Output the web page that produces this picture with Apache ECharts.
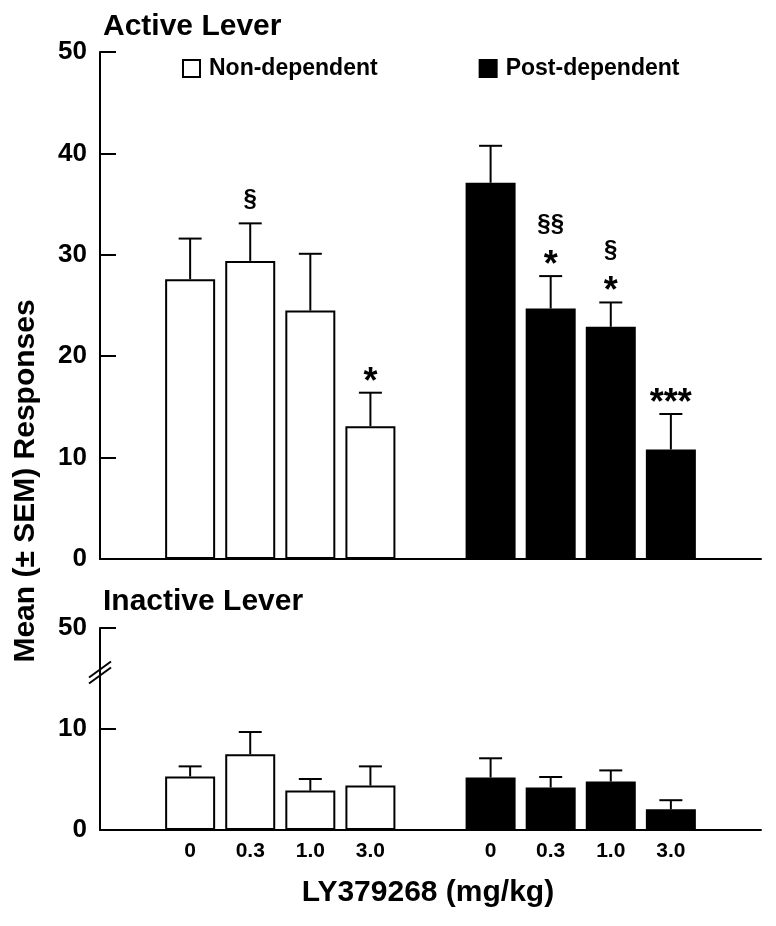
<!DOCTYPE html>
<html><head><meta charset="utf-8">
<script src="https://cdn.jsdelivr.net/npm/echarts@6/dist/echarts.min.js"></script>
<style>html,body{margin:0;padding:0;background:#fff}#c{width:776px;height:926px}</style>
</head><body><div id="c"></div>
<script>
// ---- data ----
const slotLabels = ['', '0', '0.3', '1.0', '3.0', '', '0', '0.3', '1.0', '3.0', ''];
const ndSlots = [1, 2, 3, 4];
const pdSlots = [6, 7, 8, 9];
const ndActive = [27.6, 29.4, 24.5, 13.1];
const ndActiveSem = [4.0, 3.7, 5.6, 3.3];
const pdActive = [37.1, 24.7, 22.9, 10.8];
const pdActiveSem = [3.65, 3.2, 2.4, 3.5];
const ndInactive = [5.3, 7.5, 3.9, 4.4];
const ndInactiveSem = [1.0, 2.2, 1.15, 1.9];
const pdInactive = [5.2, 4.2, 4.8, 2.05];
const pdInactiveSem = [1.9, 1.05, 1.1, 0.9];
const ndStars = ['', '', '', '*'];
const ndSect = ['', '§', '', ''];
const pdStars = ['', '*', '*', '***'];
const pdSect = ['', '§§', '§', ''];
const activeTicks = [0, 10, 20, 30, 40, 50];
const inactiveTickValues = [0, 10, 20];
const inactiveTickLabels = ['0', '10', '50'];
const breakAt = [15.6];
const seriesNames = ['Non-dependent', 'Post-dependent'];

const FONT = '"Liberation Sans", Arial, Helvetica, sans-serif';

function fullArray(slots, vals) {
  const a = slotLabels.map(() => '-');
  slots.forEach((s, i) => { a[s] = vals[i]; });
  return a;
}
function errData(slots, vals, sems) {
  return slots.map((s, i) => [s, vals[i], sems[i], i]);
}
function errRender(stars, sects) {
  return function (params, api) {
    const x = api.value(0), m = api.value(1), s = api.value(2), i = api.value(3);
    const p0 = api.coord([x, m]);
    const p1 = api.coord([x, m + s]);
    const ch = [
      { type: 'line', shape: { x1: p0[0], y1: p0[1], x2: p1[0], y2: p1[1] }, style: { stroke: '#000', lineWidth: 2 } },
      { type: 'line', shape: { x1: p1[0] - 11.5, y1: p1[1], x2: p1[0] + 11.5, y2: p1[1] }, style: { stroke: '#000', lineWidth: 2 } }
    ];
    let off = 0;
    if (stars && stars[i]) {
      ch.push({ type: 'text', x: p1[0], y: p1[1] - 10, style: { text: stars[i], font: 'bold 36px ' + FONT, fill: '#000', align: 'center', verticalAlign: 'middle' } });
      off = 28;
    }
    if (sects && sects[i]) {
      ch.push({ type: 'text', x: p1[0], y: p1[1] - 24 - off, style: { text: sects[i], font: 'bold 24px ' + FONT, fill: '#000', align: 'center', verticalAlign: 'middle' } });
    }
    return { type: 'group', children: ch };
  };
}

const chart = echarts.init(document.getElementById('c'), null, { renderer: 'canvas' });
const axisLine = { show: true, lineStyle: { color: '#000', width: 2 } };
const option = {
  backgroundColor: '#fff',
  animation: false,
  textStyle: { fontFamily: FONT },
  legend: {
    data: seriesNames,
    left: 182, top: 57, padding: 0,
    icon: 'rect',
    itemWidth: 17, itemHeight: 17, itemGap: 101,
    textStyle: { fontFamily: FONT, fontWeight: 'bold', fontSize: 23, color: '#000', padding: [0, 0, 0, 4] },
    selectedMode: false
  },
  grid: [
    { left: 100, right: 15, top: 52, height: 507 },
    { left: 100, right: 15, top: 628, height: 202 }
  ],
  xAxis: [
    { type: 'category', gridIndex: 0, data: slotLabels, axisLine: axisLine, axisTick: { show: false }, axisLabel: { show: false } },
    { type: 'category', gridIndex: 1, data: slotLabels, axisLine: axisLine, axisTick: { show: false },
      axisLabel: { show: true, fontFamily: FONT, fontWeight: 'bold', fontSize: 21, color: '#000', margin: 11, interval: 0 } }
  ],
  yAxis: [
    { type: 'value', gridIndex: 0, min: activeTicks[0], max: activeTicks[activeTicks.length - 1], interval: 10,
      axisLine: axisLine, splitLine: { show: false },
      axisTick: { show: true, inside: true, length: 16, lineStyle: { color: '#000', width: 2 } },
      axisLabel: { fontFamily: FONT, fontWeight: 'bold', fontSize: 26, color: '#000', margin: 13 } },
    { type: 'value', gridIndex: 1, min: 0, max: 20, interval: 10,
      axisLine: axisLine, splitLine: { show: false },
      axisTick: { show: true, inside: true, length: 16, lineStyle: { color: '#000', width: 2 } },
      axisLabel: { fontFamily: FONT, fontWeight: 'bold', fontSize: 26, color: '#000', margin: 13,
        formatter: v => inactiveTickLabels[inactiveTickValues.indexOf(v)] } }
  ],
  series: [
    { name: seriesNames[0], type: 'bar', xAxisIndex: 0, yAxisIndex: 0, data: fullArray(ndSlots, ndActive),
      barWidth: 50, barGap: '-100%', itemStyle: { color: '#fff', borderColor: '#000', borderWidth: 2 } },
    { name: seriesNames[1], type: 'bar', xAxisIndex: 0, yAxisIndex: 0, data: fullArray(pdSlots, pdActive),
      barWidth: 50, barGap: '-100%', itemStyle: { color: '#000', borderColor: '#000', borderWidth: 2 } },
    { name: seriesNames[0], type: 'bar', xAxisIndex: 1, yAxisIndex: 1, data: fullArray(ndSlots, ndInactive),
      barWidth: 50, barGap: '-100%', itemStyle: { color: '#fff', borderColor: '#000', borderWidth: 2 } },
    { name: seriesNames[1], type: 'bar', xAxisIndex: 1, yAxisIndex: 1, data: fullArray(pdSlots, pdInactive),
      barWidth: 50, barGap: '-100%', itemStyle: { color: '#000', borderColor: '#000', borderWidth: 2 } },
    { type: 'custom', xAxisIndex: 0, yAxisIndex: 0, data: errData(ndSlots, ndActive, ndActiveSem), renderItem: errRender(ndStars, ndSect), z: 5 },
    { type: 'custom', xAxisIndex: 0, yAxisIndex: 0, data: errData(pdSlots, pdActive, pdActiveSem), renderItem: errRender(pdStars, pdSect), z: 5 },
    { type: 'custom', xAxisIndex: 1, yAxisIndex: 1, data: errData(ndSlots, ndInactive, ndInactiveSem), renderItem: errRender(null, null), z: 5 },
    { type: 'custom', xAxisIndex: 1, yAxisIndex: 1, data: errData(pdSlots, pdInactive, pdInactiveSem), renderItem: errRender(null, null), z: 5 },
    { type: 'custom', xAxisIndex: 1, yAxisIndex: 1, data: breakAt.map(v => [0, v]), z: 6,
      renderItem: function (params, api) {
        const x = params.coordSys.x;
        const y = api.coord([0, api.value(1)])[1];
        return { type: 'group', children: [
          { type: 'line', shape: { x1: x - 11, y1: y + 5, x2: x + 11, y2: y - 11 }, style: { stroke: '#000', lineWidth: 2 } },
          { type: 'line', shape: { x1: x - 11, y1: y + 11, x2: x + 11, y2: y - 5 }, style: { stroke: '#000', lineWidth: 2 } }
        ] };
      } }
  ],
  graphic: [
    { type: 'text', left: 103, top: 12, style: { text: 'Active Lever', font: 'bold 30px ' + FONT, fill: '#000' } },
    { type: 'text', left: 103, top: 587, style: { text: 'Inactive Lever', font: 'bold 30px ' + FONT, fill: '#000' } },
    { type: 'text', x: 26, y: 481, rotation: Math.PI / 2, style: { text: 'Mean (± SEM) Responses', font: 'bold 30px ' + FONT, fill: '#000', align: 'center', verticalAlign: 'middle' } },
    { type: 'text', x: 428, y: 893, style: { text: 'LY379268 (mg/kg)', font: 'bold 30px ' + FONT, fill: '#000', align: 'center', verticalAlign: 'middle' } }
  ]
};
chart.setOption(option);
</script>
</body></html>
